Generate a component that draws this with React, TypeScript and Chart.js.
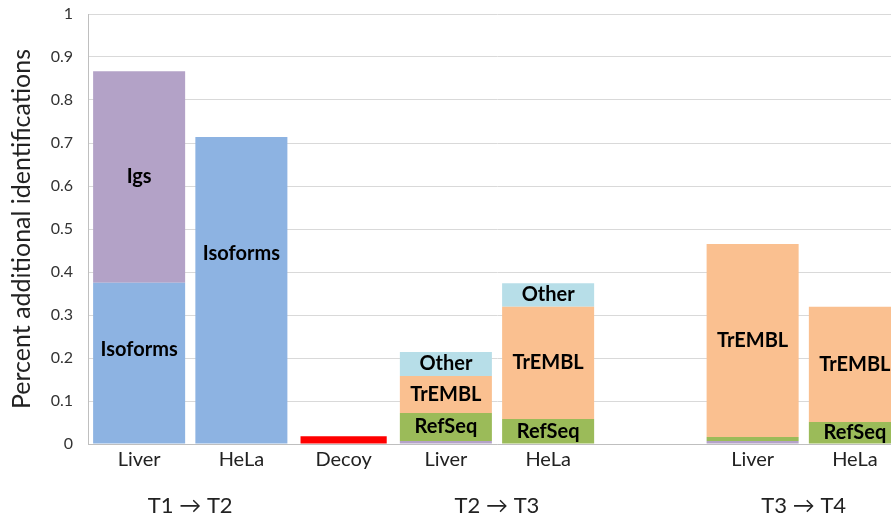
import React, { useEffect, useRef } from "react";
import { Chart, registerables } from "chart.js";

Chart.register(...registerables);

const categories = ["Liver", "HeLa", "Decoy", "Liver", "HeLa", "", "Liver", "HeLa"];
const isoforms = [0.375, 0.714, 0, 0, 0, 0, 0, 0];
const igs = [0.492, 0, 0, 0.007, 0, 0, 0.007, 0];
const decoy = [0, 0, 0.018, 0, 0, 0, 0, 0];
const refSeq = [0, 0, 0, 0.065, 0.058, 0, 0.009, 0.051];
const trembl = [0, 0, 0, 0.086, 0.261, 0, 0.449, 0.268];
const other = [0, 0, 0, 0.056, 0.055, 0, 0, 0];
const yTicks = [0, 0.1, 0.2, 0.3, 0.4, 0.5, 0.6, 0.7, 0.8, 0.9, 1];
const groupLabels = ["T1 \u2192 T2", "T2 \u2192 T3", "T3 \u2192 T4"];
const groupSpans = [[0, 1], [3, 4], [6, 7]];
// segment labels: dataset index, category index, text, optional anchor value (data units)
const segmentLabels: { ds: number; idx: number; text: string; at?: number }[] = [
  { ds: 1, idx: 0, text: "Igs" },
  { ds: 0, idx: 0, text: "Isoforms", at: 0.219 },
  { ds: 0, idx: 1, text: "Isoforms", at: 0.444 },
  { ds: 3, idx: 3, text: "RefSeq" },
  { ds: 4, idx: 3, text: "TrEMBL" },
  { ds: 5, idx: 3, text: "Other" },
  { ds: 3, idx: 4, text: "RefSeq" },
  { ds: 4, idx: 4, text: "TrEMBL" },
  { ds: 5, idx: 4, text: "Other" },
  { ds: 4, idx: 6, text: "TrEMBL" },
  { ds: 3, idx: 7, text: "RefSeq" },
  { ds: 4, idx: 7, text: "TrEMBL" },
];

const FONT = "Lato, 'Noto Sans', sans-serif";

export default function App() {
  const ref = useRef<HTMLCanvasElement | null>(null);
  useEffect(() => {
    document.body.style.margin = "0";
    const canvas = ref.current!;
    const labelPlugin = {
      id: "segLabels",
      afterDatasetsDraw(chart: any) {
        const ctx = chart.ctx;
        const y = chart.scales.y;
        ctx.save();
        ctx.font = `bold 20px ${FONT}`;
        ctx.fillStyle = "#000";
        ctx.textAlign = "center";
        ctx.textBaseline = "middle";
        for (const l of segmentLabels) {
          const bar: any = chart.getDatasetMeta(l.ds).data[l.idx];
          if (!bar) continue;
          const py = l.at != null ? y.getPixelForValue(l.at) : (bar.y + bar.base) / 2;
          ctx.fillText(l.text, bar.x, py);
        }
        ctx.restore();
      },
      afterDraw(chart: any) {
        const ctx = chart.ctx;
        const x = chart.scales.x;
        ctx.save();
        ctx.font = `22px ${FONT}`;
        ctx.fillStyle = "#222";
        ctx.textAlign = "center";
        ctx.textBaseline = "middle";
        groupLabels.forEach((t, i) => {
          const [a, b] = groupSpans[i];
          const cx = (x.getPixelForValue(a) + x.getPixelForValue(b)) / 2;
          ctx.fillText(t, cx, chart.chartArea.bottom + 62);
        });
        ctx.restore();
      },
    };
    const mk = (label: string, data: number[], color: string, bp = 0.9) => ({
      label,
      data,
      backgroundColor: color,
      borderWidth: 0,
      barPercentage: bp,
      categoryPercentage: 1,
    });
    const chart = new Chart(canvas, {
      type: "bar",
      data: {
        labels: categories,
        datasets: [
          mk("Isoforms", isoforms, "#8DB3E2"),
          mk("Igs", igs, "#B3A2C7"),
          mk("Decoy", decoy, "#FF0000", 0.843),
          mk("RefSeq", refSeq, "#9BBB59"),
          mk("TrEMBL", trembl, "#FAC090"),
          mk("Other", other, "#B7DEE8"),
        ] as any,
      },
      options: {
        responsive: false,
        animation: false,
        layout: { padding: { top: 14, right: 0, bottom: 0, left: 0 } },
        plugins: { legend: { display: false }, tooltip: { enabled: false } },
        scales: {
          x: {
            stacked: true,
            grid: { display: false, drawTicks: false },
            border: { display: true, color: "#BFBFBF" },
            ticks: { color: "#222", font: { family: FONT, size: 20 }, padding: 4, autoSkip: false, maxRotation: 0 },
            afterFit(s: any) { s.height = 76; s.paddingLeft = 0; s.paddingRight = 0; },
          },
          y: {
            stacked: true,
            min: 0,
            max: 1,
            afterBuildTicks(s: any) { s.ticks = yTicks.map((v) => ({ value: v })); },
            grid: { color: "#D9D9D9", drawTicks: false },
            border: { display: true, color: "#BFBFBF" },
            ticks: { color: "#333", font: { family: FONT, size: 16 }, padding: 15, callback: (v: any) => String(v) },
            title: { display: true, text: "Percent additional identifications", color: "#222", font: { family: FONT, size: 25 }, padding: { top: 7, bottom: 0 } },
            afterFit(s: any) { s.width = 88; s.paddingTop = 0; s.paddingBottom = 0; },
          },
        },
      },
      plugins: [labelPlugin],
    });
    return () => chart.destroy();
  }, []);
  return (
    <div style={{ width: 891, height: 520, overflow: "hidden" }}>
      <canvas ref={ref} width={906} height={520} style={{ display: "block" }} />
    </div>
  );
}
